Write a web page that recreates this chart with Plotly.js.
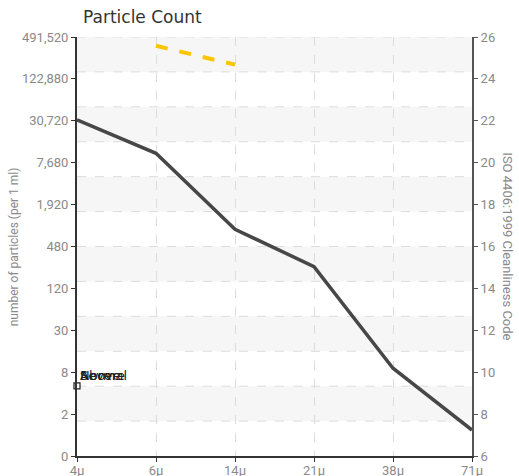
<!DOCTYPE html>
<html>
<head>
<meta charset="utf-8">
<script src="https://cdn.plot.ly/plotly-3.0.1.min.js"></script>
<style>html,body{margin:0;padding:0;background:#fff;}#chart{width:519px;height:476px;}</style>
</head>
<body>
<div id="chart"></div>
<script>
// Particle size categories
var sizes = ['4\u03bc', '6\u03bc', '14\u03bc', '21\u03bc', '38\u03bc', '71\u03bc'];
// Measured sample, expressed as ISO 4406 code (right axis scale)
var sampleCode = [22.05, 20.45, 16.82, 15.04, 10.19, 7.24];
// Yellow dashed limit (only defined for 6μ and 14μ)
var limitSizes = ['6\u03bc', '14\u03bc'];
var limitCode = [25.58, 24.68];
// Left axis tick labels (particles per 1 ml) aligned with ISO codes
var isoTicks = [6, 8, 10, 12, 14, 16, 18, 20, 22, 24, 26];
var countLabels = ['0', '2', '8', '30', '120', '480', '1,920', '7,680', '30,720', '122,880', '491,520'];
var codeLabels = ['6', '8', '10', '12', '14', '16', '18', '20', '22', '24', '26'];
// Legend entries (drawn overlapping as in the original)
var legendNames = ['Above', 'Severe', 'Normal'];

function build(opts) {
  var yMin = 6, yMax = 26, nBands = 12;
  var shapes = [];
  var step = (yMax - yMin) / nBands;
  for (var i = 0; i < nBands; i++) {
    var top = yMax - i * step, bot = yMax - (i + 1) * step;
    if (i % 2 === 0) {
      shapes.push({type: 'rect', xref: 'paper', yref: 'y', x0: 0, x1: 1, y0: bot, y1: top,
        fillcolor: '#f6f6f6', line: {width: 0}, layer: 'below'});
    }
  }
  for (var j = 1; j <= nBands; j++) {
    var yy = yMin + j * step;
    shapes.push({type: 'line', xref: 'paper', yref: 'y', x0: 0, x1: 1, y0: yy, y1: yy,
      line: {color: '#dcdcdc', width: 1, dash: 'dash'}, layer: 'below'});
  }
  function tf() { return {family: opts.font, size: 13, color: '#8a8a8a'}; }
  var traces = [
    {x: sizes, y: sampleCode, type: 'scatter', mode: 'lines',
     line: {color: '#474747', width: 3.5}, hoverinfo: 'skip', showlegend: false},
    {x: limitSizes, y: limitCode, type: 'scatter', mode: 'lines', yaxis: 'y2',
     line: {color: '#fcc500', width: 4, dash: 'dash'}, hoverinfo: 'skip', showlegend: false},
    {x: [sizes[0]], y: [9.35], type: 'scatter', mode: 'markers',
     marker: {symbol: 'square', size: 6, color: '#fff', line: {color: '#222', width: 1.2}},
     hoverinfo: 'skip', showlegend: false, cliponaxis: false}
  ];
  var annotations = [
    {xref: 'paper', yref: 'paper', x: -0.16, y: 0.5, xanchor: 'center', yanchor: 'middle',
     text: 'number of particles (per 1 ml)',
     textangle: -90, showarrow: false, font: {family: opts.font, size: 12, color: '#8a8a8a'}},
    {xref: 'paper', yref: 'paper', x: 1.089, y: 0.5, xanchor: 'center', yanchor: 'middle',
     text: 'ISO 4406:1999 Cleanliness Code',
     textangle: 90, showarrow: false, font: {family: opts.font, size: 13, color: '#8a8a8a'}}
  ];
  legendNames.forEach(function (n) {
    annotations.push({xref: 'paper', yref: 'y', x: 0.002, y: 9.85, xanchor: 'left', yanchor: 'middle',
      text: n, showarrow: false, font: {family: 'DejaVu Sans', size: 13, color: '#222'}});
  });
  var xaxis = {type: 'category', range: [0, 5], showgrid: true, gridcolor: '#dcdcdc', griddash: 'dash',
      showline: true, linecolor: '#333', linewidth: 2, ticks: 'outside', ticklen: 4, tickcolor: '#333',
      tickfont: tf(), zeroline: false};
  if (opts.standoff) xaxis.ticklabelstandoff = -3;
  var layout = {
    width: 519, height: 476,
    margin: {l: 77, r: 47, t: 37, b: 20},
    paper_bgcolor: '#fff', plot_bgcolor: '#fff',
    showlegend: false,
    title: {text: 'Particle Count', x: 83 / 519, xanchor: 'left',
      y: 1 - 17 / 476, yanchor: 'middle', font: {family: 'DejaVu Sans', size: 17, color: '#333'}},
    xaxis: xaxis,
    yaxis: {range: [yMin, yMax], tickmode: 'array', tickvals: isoTicks, ticktext: countLabels, showgrid: false,
      showline: true, linecolor: '#333', linewidth: 2, ticks: 'outside', ticklen: 4, tickcolor: '#333',
      tickfont: tf(), zeroline: false},
    yaxis2: {overlaying: 'y', side: 'right', anchor: 'x', range: [yMin, yMax], tickmode: 'array', tickvals: isoTicks,
      ticktext: codeLabels, showgrid: false, showline: true, linecolor: '#555', linewidth: 2,
      ticks: 'outside', ticklen: 4, tickcolor: '#555', tickfont: tf(), zeroline: false},
    shapes: shapes,
    annotations: annotations
  };
  return {traces: traces, layout: layout};
}

var variants = [
  {font: 'Roboto', standoff: true},
  {font: 'Roboto', standoff: false},
  {font: 'Liberation Sans', standoff: false},
  {font: 'Liberation Sans Narrow', standoff: false}
];
(async function () {
  for (var k = 0; k < variants.length; k++) {
    var b = build(variants[k]);
    try {
      Plotly.purge('chart');
      await Plotly.newPlot('chart', b.traces, b.layout, {displayModeBar: false});
      return;
    } catch (e) { /* try next variant */ }
  }
})();
</script>
</body>
</html>
